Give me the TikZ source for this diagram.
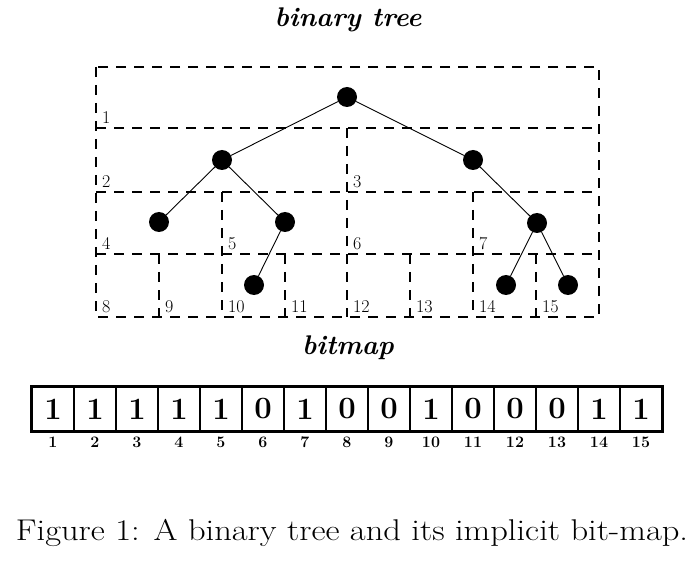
\documentclass[tikz,border=0pt]{standalone}
\begin{document}
\begin{tikzpicture}[x=1pt,y=-1pt,
  grid/.style={dashed, dash pattern=on 10pt off 8pt, line width=1.8pt},
  dot/.style={circle, fill=black, minimum size=20pt, inner sep=0pt},
  edge/.style={line width=0.9pt},
  lbl/.style={font=\fontsize{18}{18}\selectfont, inner sep=0pt, anchor=south west, xshift=6pt, yshift=4pt},
  cell/.style={draw, line width=1.8pt, minimum width=42pt, minimum height=44pt, inner sep=0pt, font=\bfseries\fontsize{31}{31}\selectfont},
  idx/.style={font=\bfseries\fontsize{16}{16}\selectfont, inner sep=0pt},
  title/.style={font=\bfseries\itshape\fontsize{27}{27}\selectfont, inner sep=0pt}]
\useasboundingbox (0,0) rectangle (699,564);
% titles
\node[title] (t1) at (348,20) {binary tree};
\node[title] (t2) at (348,348) {bitmap};
% grid
\draw[grid] (96,67) rectangle (599,317);
\draw[grid] (96,128) -- (599,128);
\draw[grid] (96,192) -- (599,192);
\draw[grid] (96,254) -- (599,254);
\draw[grid] (347,128) -- (347,317);
\draw[grid] (222,192) -- (222,317);
\draw[grid] (473,192) -- (473,317);
\foreach \x in {159,285,410,536} \draw[grid] (\x,254) -- (\x,317);
% labels
\node[lbl] (l1) at (96,128) {1};
\node[lbl] (l2) at (96,192) {2};
\node[lbl] (l3) at (347,192) {3};
\node[lbl] (l4) at (96,254) {4};
\node[lbl] (l5) at (222,254) {5};
\node[lbl] (l6) at (347,254) {6};
\node[lbl] (l7) at (473,254) {7};
\node[lbl] (l8) at (96,317) {8};
\node[lbl] (l9) at (159,317) {9};
\node[lbl] (l10) at (222,317) {10};
\node[lbl] (l11) at (285,317) {11};
\node[lbl] (l12) at (347,317) {12};
\node[lbl] (l13) at (410,317) {13};
\node[lbl] (l14) at (473,317) {14};
\node[lbl] (l15) at (536,317) {15};
% tree nodes
\node[dot] (n1) at (347,97) {};
\node[dot] (n2) at (222,160) {};
\node[dot] (n3) at (473,160) {};
\node[dot] (n4) at (159,222) {};
\node[dot] (n5) at (285,222) {};
\node[dot] (n7) at (537,223) {};
\node[dot] (n10) at (254,285) {};
\node[dot] (n14) at (506,285) {};
\node[dot] (n15) at (568,285) {};
\draw[edge] (n1) -- (n2);
\draw[edge] (n1) -- (n3);
\draw[edge] (n2) -- (n4);
\draw[edge] (n2) -- (n5);
\draw[edge] (n5) -- (n10);
\draw[edge] (n3) -- (n7);
\draw[edge] (n7) -- (n14);
\draw[edge] (n7) -- (n15);
% bitmap
\foreach \b [count=\i] in {1,1,1,1,1,0,1,0,0,1,0,0,0,1,1} {
  \node[cell] (c\i) at ({32+42*\i-21},409) {\b};
  \node[idx] (i\i) at ({32+42*\i-21},442) {\i};
}
\draw[line width=2.6pt] (c1.north west) rectangle (c15.south east);
% caption
\node[font=\fontsize{30}{30}\selectfont, inner sep=0pt, xscale=1.15] (cap) at (352,533) {Figure 1: A binary tree and its implicit bit-map.};
\end{tikzpicture}
\end{document}
